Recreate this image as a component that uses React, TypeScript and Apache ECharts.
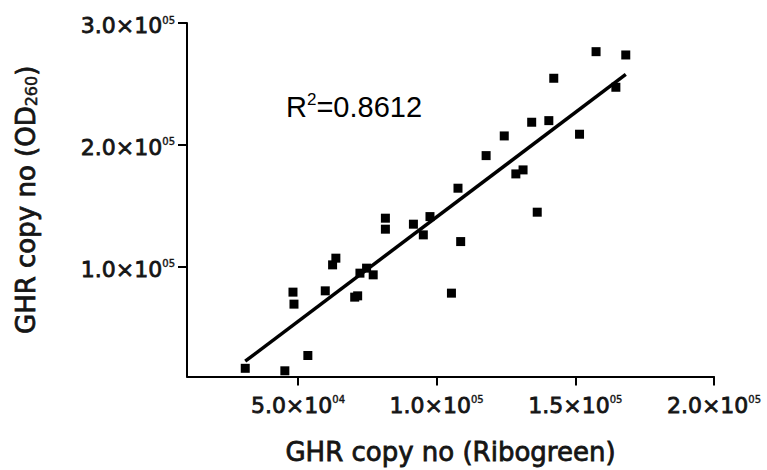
import React, { useEffect, useRef } from "react";
import * as echarts from "echarts";

// GHR copy number measured with Ribogreen (x) vs OD260 (y)
const ribogreen = [
  31000, 45280, 53570, 48210, 48570, 59850, 63670, 62490, 70460, 71530,
  72350, 74740, 77130, 81530, 81530, 91630, 97600, 95200, 107700, 108670,
  105340, 117840, 124380, 128560, 131160, 134270, 140450, 136270, 142230,
  151520, 157480, 164620, 168190,
];
const od260 = [
  16800, 14750, 27300, 79270, 69430, 80330, 107130, 101640, 75170, 76230,
  94840, 98940, 93450, 139920, 130900, 135000, 141230, 126230, 164510, 120740,
  78440, 191240, 207380, 176240, 179520, 218610, 219930, 144840, 254680,
  208780, 276490, 247300, 273780,
];

const xTickValues = [50000, 100000, 150000, 200000];
const yTickValues = [100000, 200000, 300000];

// Linear fit
const fitSlope = 1.714;
const fitIntercept = -30490;
const rSquared = "0.8612";

const xTitle = "GHR copy no (Ribogreen)";
const yTitle = "{t|GHR copy no (OD}{sub|260}{t|)}";

const font = "'DejaVu Sans', Verdana, sans-serif";
const ink = "#151515";

function sci(v: number): string {
  const e = Math.floor(Math.log10(v) + 1e-9);
  const m = v / Math.pow(10, e);
  return `{m|${m.toFixed(1)}×10}{s|${String(e).padStart(2, "0")}}`;
}

export default function App() {
  const ref = useRef<HTMLDivElement>(null);

  useEffect(() => {
    if (!ref.current) return;
    const chart = echarts.init(ref.current, undefined, { renderer: "svg" });

    const points = ribogreen.map((x, i) => [x, od260[i]]);
    const xMin = Math.min(...ribogreen);
    const xMax = Math.max(...ribogreen);
    const fitLine = [xMin, xMax].map((x) => [x, fitSlope * x + fitIntercept]);

    const heavy = { textBorderColor: ink, textBorderWidth: 0.8 };

    const labelRich = {
      m: { fontFamily: font, fontSize: 22, color: ink, lineHeight: 25, ...heavy },
      s: {
        fontFamily: font,
        fontSize: 10,
        color: ink,
        lineHeight: 10,
        padding: [0, 0, 11, 0],
        textBorderColor: ink,
        textBorderWidth: 0.4,
      },
    };

    const axisCommon = {
      type: "value" as const,
      axisLine: { show: true, onZero: false, lineStyle: { color: "#000", width: 2 } },
      splitLine: { show: false },
      nameLocation: "middle" as const,
    };

    chart.setOption({
      animation: false,
      backgroundColor: "#fff",
      grid: { left: 187, right: 53, top: 23, bottom: 93, containLabel: false },
      xAxis: {
        ...axisCommon,
        min: 10000,
        max: 200000,
        axisTick: {
          show: true,
          customValues: xTickValues,
          length: 9,
          lineStyle: { color: "#000", width: 2 },
        },
        axisLabel: {
          customValues: xTickValues,
          formatter: sci,
          rich: labelRich,
          margin: 16,
        },
        name: xTitle,
        nameGap: 62,
        nameTextStyle: { fontFamily: font, fontSize: 26, color: ink, ...heavy },
      },
      yAxis: {
        ...axisCommon,
        min: 10000,
        max: 300000,
        axisTick: {
          show: true,
          customValues: yTickValues,
          length: 9,
          lineStyle: { color: "#000", width: 2 },
        },
        axisLabel: {
          customValues: yTickValues,
          formatter: sci,
          rich: labelRich,
          margin: 12,
          padding: [5, 0, 0, 0],
        },
        name: yTitle,
        nameGap: 146,
        nameRotate: 90,
        nameTextStyle: {
          rich: {
            t: { fontFamily: font, fontSize: 26, color: ink, lineHeight: 30, ...heavy },
            sub: {
              fontFamily: font,
              fontSize: 16,
              color: ink,
              lineHeight: 16,
              padding: [10, 0, 0, 0],
              textBorderColor: ink,
              textBorderWidth: 0.5,
            },
          },
        },
      },
      series: [
        {
          type: "scatter",
          data: points,
          symbol: "rect",
          symbolSize: 9,
          itemStyle: { color: "#000", opacity: 1 },
          z: 3,
        },
        {
          type: "line",
          data: fitLine,
          symbol: "none",
          lineStyle: { color: "#000", width: 3.5 },
          z: 2,
        },
      ],
      graphic: [
        {
          type: "text",
          x: 286,
          y: 107,
          style: {
            text: `{r|R}{s|2}{r|=${rSquared}}`,
            align: "left",
            verticalAlign: "middle",
            rich: {
              r: { fontFamily: "'Liberation Sans', Arial, sans-serif", fontSize: 29, color: "#111", lineHeight: 32 },
              s: {
                fontFamily: "'Liberation Sans', Arial, sans-serif",
                fontSize: 17,
                color: "#111",
                lineHeight: 17,
                padding: [0, 0, 16, 0],
              },
            },
          },
        },
      ],
    });

    return () => chart.dispose();
  }, []);

  return (
    <div
      ref={ref}
      style={{ position: "absolute", left: 0, top: 0, width: 767, height: 470, background: "#fff" }}
    />
  );
}
